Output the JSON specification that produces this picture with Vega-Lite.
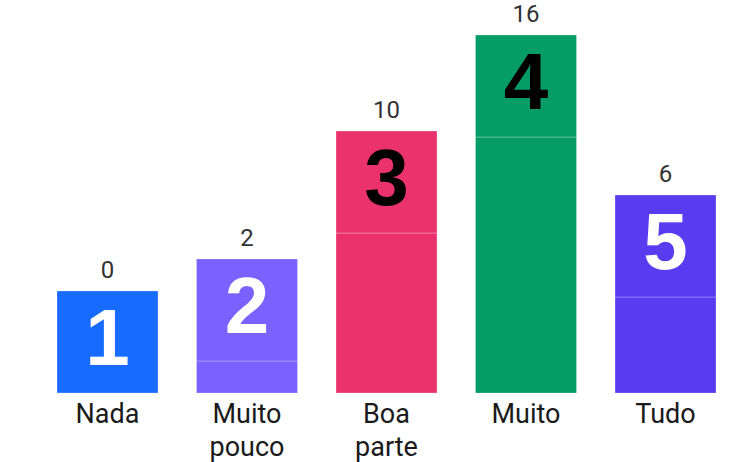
{
  "$schema": "https://vega.github.io/schema/vega-lite/v6.json",
  "width": 722,
  "height": 393,
  "autosize": "none",
  "padding": {"left": 18, "top": 0, "right": 0, "bottom": 69},
  "background": "white",
  "config": {"view": {"stroke": null}},
  "data": {
    "values": [
      {"cat": "Nada", "valor": 0, "base": 6.375, "rank": "1"},
      {"cat": "Muito pouco", "valor": 2, "base": 6.375, "rank": "2"},
      {"cat": "Boa parte", "valor": 10, "base": 6.375, "rank": "3"},
      {"cat": "Muito", "valor": 16, "base": 6.375, "rank": "4"},
      {"cat": "Tudo", "valor": 6, "base": 6.375, "rank": "5"}
    ]
  },
  "transform": [{"fold": ["valor", "base"], "as": ["seg", "amount"]}],
  "encoding": {
    "x": {
      "field": "cat",
      "type": "nominal",
      "sort": null,
      "scale": {"range": [39, 698], "paddingInner": 0.276, "paddingOuter": 0},
      "axis": {
        "title": null,
        "domain": false,
        "ticks": false,
        "labelAngle": 0,
        "labelFont": "Roboto",
        "labelFontSize": 27,
        "labelColor": "#1a1a1a",
        "labelPadding": 8,
        "labelLineHeight": 33,
        "labelBaseline": "top",
        "labelExpr": "split(datum.label, ' ')"
      }
    }
  },
  "layer": [
    {
      "mark": {"type": "bar", "stroke": "white", "strokeOpacity": 0.25, "strokeWidth": 1},
      "encoding": {
        "y": {
          "field": "amount",
          "type": "quantitative",
          "stack": "zero",
          "scale": {"domain": [0, 24.5625], "nice": false, "zero": true},
          "axis": null
        },
        "order": {"field": "seg", "sort": "descending"},
        "color": {
          "field": "cat",
          "type": "nominal",
          "sort": null,
          "scale": {
            "domain": ["Nada", "Muito pouco", "Boa parte", "Muito", "Tudo"],
            "range": ["#176cff", "#7b61ff", "#ea336e", "#069c67", "#5a3cf0"]
          },
          "legend": null
        }
      }
    },
    {
      "mark": {"type": "text", "font": "Liberation Sans", "fontWeight": "bold", "fontSize": 80, "baseline": "middle", "dy": 50},
      "encoding": {
        "y": {"field": "amount", "type": "quantitative", "aggregate": "sum"},
        "text": {"field": "rank", "aggregate": "max", "type": "nominal"},
        "color": {
          "condition": {"test": "datum.max_rank === '3' || datum.max_rank === '4'", "value": "#000000"},
          "value": "#ffffff"
        }
      }
    },
    {
      "mark": {"type": "text", "font": "Roboto", "fontSize": 24, "color": "#333333", "baseline": "bottom", "dy": -8},
      "encoding": {
        "y": {"field": "amount", "type": "quantitative", "aggregate": "sum"},
        "text": {"field": "valor", "aggregate": "max", "type": "quantitative"}
      }
    },
    {
      "mark": {"type": "rule", "color": "#1a1a1a", "strokeWidth": 2},
      "encoding": {"y": {"datum": 0}}
    }
  ]
}
